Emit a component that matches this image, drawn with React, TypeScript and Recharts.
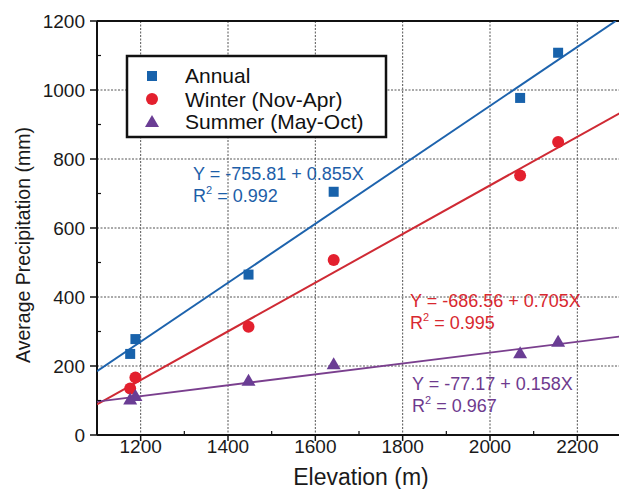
import React from 'react';
import { ScatterChart, Scatter, XAxis, YAxis, CartesianGrid, ReferenceLine } from 'recharts';

// Station data (elevation m, precipitation mm)
const elevation = [1176, 1188, 1447, 1642, 2069, 2156];
const annualPrecip = [235, 278, 465, 705, 977, 1108];
const winterPrecip = [135, 167, 314, 507, 752, 849];
const summerPrecip = [103, 113, 157, 205, 237, 270];

// Fitted regression line end points
const annualFitX = [1100, 2288];
const annualFitY = [185, 1200];
const winterFitX = [1100, 2300];
const winterFitY = [89, 935];
const summerFitX = [1100, 2300];
const summerFitY = [97, 286];

// Ticks
const xTicks = [1100, 1200, 1300, 1400, 1500, 1600, 1700, 1800, 1900, 2000, 2100, 2200, 2300];
const xLabelTicks = [1200, 1400, 1600, 1800, 2000, 2200];
const yTicks = [0, 100, 200, 300, 400, 500, 600, 700, 800, 900, 1000, 1100, 1200];
const yLabelTicks = [0, 200, 400, 600, 800, 1000, 1200];
const gridX = [1200, 1400, 1600, 1800, 2000, 2200];
const gridY = [200, 400, 600, 800, 1000];

const seriesNames = ['Annual', 'Winter (Nov-Apr)', 'Summer (May-Oct)'];
const equations = ['Y = -755.81 + 0.855X', 'Y = -686.56 + 0.705X', 'Y = -77.17 + 0.158X'];
const rSquared = ['0.992', '0.995', '0.967'];

const BLUE = '#1862ab';
const RED = '#e3202e';
const PURPLE = '#6a3d94';
const BLUE_LINE = '#1d63ad';
const RED_LINE = '#cf2a34';
const PURPLE_LINE = '#7a3f8e';
const FONT = '"Liberation Sans", Arial, Helvetica, sans-serif';

const toPts = (xs: number[], ys: number[]) => xs.map((x, i) => ({ x, y: ys[i] }));
const annualData = toPts(elevation, annualPrecip);
const winterData = toPts(elevation, winterPrecip);
const summerData = toPts(elevation, summerPrecip);
const annualFit = toPts(annualFitX, annualFitY);
const winterFit = toPts(winterFitX, winterFitY);
const summerFit = toPts(summerFitX, summerFitY);

const SquareShape = (p: any) => <rect x={p.cx - 5} y={p.cy - 5} width={10} height={10} fill={BLUE} />;
const CircleShape = (p: any) => <circle cx={p.cx} cy={p.cy} r={6} fill={RED} />;
const TriangleShape = (p: any) => (
  <polygon points={`${p.cx},${p.cy - 7} ${p.cx - 7},${p.cy + 5} ${p.cx + 7},${p.cy + 5}`} fill={PURPLE} />
);
const NoShape = () => <g />;

const XTick = (props: any) => {
  const { x, y, payload } = props;
  const v = payload.value;
  const major = xLabelTicks.includes(v);
  return (
    <g>
      {major ? (
        <line x1={x} x2={x} y1={y} y2={y + 6} stroke="#111" strokeWidth={1.5} />
      ) : (
        <line x1={x} x2={x} y1={y} y2={y - 4} stroke="#111" strokeWidth={1.2} />
      )}
      {major && (
        <text x={x} y={y + 18} textAnchor="middle" fontSize={19} fill="#1a1a1a" fontFamily={FONT}>
          {v}
        </text>
      )}
    </g>
  );
};

const YTick = (props: any) => {
  const { x, y, payload } = props;
  const v = payload.value;
  const major = yLabelTicks.includes(v);
  return (
    <g>
      {major ? (
        <line x1={x} x2={x - 7} y1={y} y2={y} stroke="#111" strokeWidth={1.5} />
      ) : (
        <line x1={x} x2={x + 4} y1={y} y2={y} stroke="#111" strokeWidth={1.2} />
      )}
      {major && (
        <text x={x - 12} y={y} dy="0.36em" textAnchor="end" fontSize={19} fill="#1a1a1a" fontFamily={FONT}>
          {v}
        </text>
      )}
    </g>
  );
};

const Equation = ({ x, y, color, eq, r2 }: any) => (
  <g fontFamily={FONT} fontSize={18} fill={color}>
    <text x={x} y={y}>{eq}</text>
    <text x={x} y={y + 22}>
      R<tspan fontSize={11} dy={-8}>2</tspan>
      <tspan dy={8}> = {r2}</tspan>
    </text>
  </g>
);

export default function App() {
  return (
    <div
      style={{
        position: 'absolute',
        left: 0,
        top: 0,
        width: 619,
        height: 489,
        overflow: 'hidden',
        background: '#fff',
      }}
    >
      <ScatterChart width={623} height={489} margin={{ top: 21, right: 2, bottom: 0, left: 0 }}>
        <CartesianGrid
          stroke="#555"
          strokeDasharray="2 1.5"
          strokeWidth={1}
          verticalValues={gridX}
          horizontalValues={gridY}
        />
        <XAxis
          type="number"
          dataKey="x"
          domain={[1100, 2300]}
          ticks={xTicks}
          interval={0}
          allowDataOverflow
          height={54}
          tickSize={0}
          tickMargin={0}
          tickLine={false}
          tick={<XTick />}
          axisLine={{ stroke: '#111', strokeWidth: 2 }}
        />
        <YAxis
          type="number"
          dataKey="y"
          domain={[0, 1200]}
          ticks={yTicks}
          interval={0}
          allowDataOverflow
          width={97}
          tickSize={0}
          tickMargin={0}
          tickLine={false}
          tick={<YTick />}
          axisLine={{ stroke: '#111', strokeWidth: 2 }}
        />
        <ReferenceLine y={1200} stroke="#111" strokeWidth={2} />
        <Scatter data={annualFit} line={{ stroke: BLUE_LINE, strokeWidth: 2 }} shape={NoShape} isAnimationActive={false} />
        <Scatter data={winterFit} line={{ stroke: RED_LINE, strokeWidth: 2 }} shape={NoShape} isAnimationActive={false} />
        <Scatter data={summerFit} line={{ stroke: PURPLE_LINE, strokeWidth: 1.8 }} shape={NoShape} isAnimationActive={false} />
        <Scatter name={seriesNames[0]} data={annualData} shape={SquareShape} isAnimationActive={false} />
        <Scatter name={seriesNames[1]} data={winterData} shape={CircleShape} isAnimationActive={false} />
        <Scatter name={seriesNames[2]} data={summerData} shape={TriangleShape} isAnimationActive={false} />
      </ScatterChart>
      <svg
        width={619}
        height={489}
        style={{ position: 'absolute', left: 0, top: 0, pointerEvents: 'none' }}
      >
        <rect x={127} y={56} width={259} height={81} fill="#fff" stroke="#111" strokeWidth={2.5} />
        <rect x={147} y={71} width={10} height={10} fill={BLUE} />
        <circle cx={152} cy={99} r={6} fill={RED} />
        <polygon points="152,115 145,127 159,127" fill={PURPLE} />
        <g fontFamily={FONT} fontSize={21} fill="#111">
          <text x={185} y={83}>{seriesNames[0]}</text>
          <text x={185} y={107}>{seriesNames[1]}</text>
          <text x={185} y={129}>{seriesNames[2]}</text>
        </g>
        <Equation x={193} y={180} color="#1d5ea8" eq={equations[0]} r2={rSquared[0]} />
        <Equation x={410} y={307} color="#d8282f" eq={equations[1]} r2={rSquared[1]} />
        <Equation x={412} y={390} color="#6e3a8e" eq={equations[2]} r2={rSquared[2]} />
        <text
          x={361}
          y={485}
          textAnchor="middle"
          fontFamily={FONT}
          fontSize={23}
          fill="#1a1a1a"
        >
          Elevation (m)
        </text>
        <text
          transform="translate(30,245) rotate(-90)"
          textAnchor="middle"
          fontFamily={FONT}
          fontSize={19.5}
          fill="#1a1a1a"
        >
          Average Precipitation (mm)
        </text>
      </svg>
    </div>
  );
}
